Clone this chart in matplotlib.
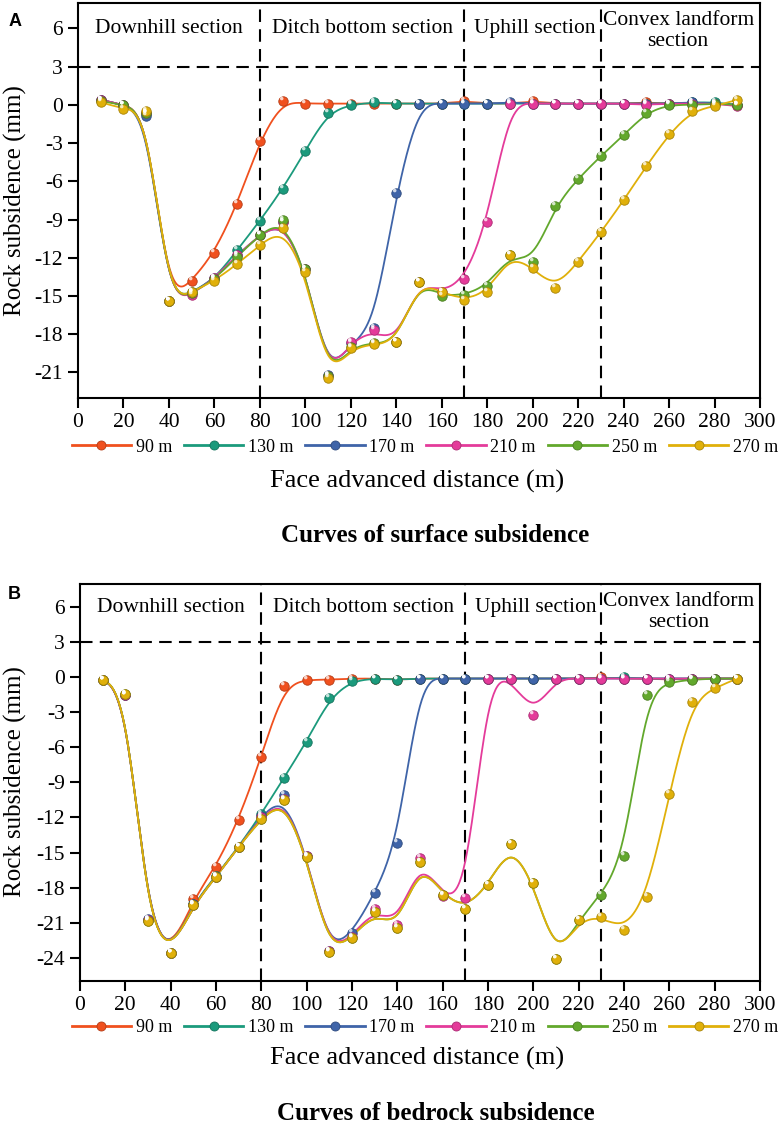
import numpy as np
import matplotlib
matplotlib.use("Agg")
import matplotlib.pyplot as plt
from matplotlib.path import Path
from matplotlib.lines import Line2D

plt.rcParams['font.family'] = ['Liberation Serif', 'DejaVu Serif']
plt.rcParams['axes.unicode_minus'] = False

## DATA
distance = np.arange(10, 300, 10)
labels = ["90 m", "130 m", "170 m", "210 m", "250 m", "270 m"]
colors = ["#F0501E", "#1B9A7C", "#3F64A8", "#E43B9A", "#62A82C", "#E0B00A"]

# surface subsidence (mm)
surf_90 = [0.4, 0.0, -0.6, -15.4, -13.8, -11.6, -7.8, -2.8, 0.3, 0.1, 0.1, 0.1, 0.1, 0.1, 0.1,
           0.1, 0.3, 0.1, 0.1, 0.3, 0.1, 0.1, 0.1, 0.1, 0.2, 0.1, 0.1, 0.1, 0.0]
surf_130 = [0.4, 0.0, -0.7, -15.4, -14.7, -13.7, -11.4, -9.1, -6.6, -3.6, -0.6, 0.0, 0.2, 0.1, 0.1,
            0.1, 0.1, 0.1, 0.1, 0.1, 0.1, 0.1, 0.1, 0.1, 0.1, 0.1, 0.2, 0.2, 0.0]
surf_170 = [0.4, 0.0, -0.9, -15.4, -14.8, -13.6, -11.8, -10.2, -9.2, -12.9, -21.2, -18.7, -17.5, -6.9, 0.1,
            0.1, 0.1, 0.1, 0.2, 0.1, 0.1, 0.1, 0.1, 0.1, 0.1, 0.1, 0.2, 0.1, 0.0]
surf_210 = [0.4, 0.0, -0.6, -15.4, -14.9, -13.6, -11.8, -10.2, -9.2, -12.9, -21.3, -18.6, -17.7, -18.6, -13.9,
            -14.7, -13.7, -9.2, 0.1, 0.1, 0.1, 0.1, 0.1, 0.1, 0.0, 0.1, 0.1, 0.1, -0.1]
surf_250 = [0.3, 0.0, -0.6, -15.4, -14.8, -13.7, -11.9, -10.2, -9.0, -12.9, -21.3, -19.0, -18.7, -18.6, -13.9,
            -15.0, -14.9, -14.2, -11.8, -12.3, -7.9, -5.8, -4.0, -2.4, -0.6, 0.0, 0.0, 0.1, 0.0]
surf_270 = [0.2, -0.3, -0.5, -15.4, -14.7, -13.8, -12.5, -11.0, -9.7, -13.1, -21.4, -19.1, -18.8, -18.6, -13.9,
            -14.7, -15.3, -14.7, -11.8, -12.8, -14.4, -12.3, -10.0, -7.5, -4.8, -2.3, -0.5, -0.1, 0.4]

# bedrock subsidence (mm)
bed_90 = [-0.2, -1.5, -20.8, -23.6, -19.0, -16.2, -12.2, -6.8, -0.7, -0.2, -0.2, -0.1, -0.1, -0.2, -0.1,
          -0.1, -0.1, -0.1, -0.1, -0.1, -0.1, -0.1, 0.0, -0.1, -0.1, -0.2, -0.1, -0.1, -0.1]
bed_130 = [-0.2, -1.5, -20.8, -23.6, -19.4, -17.0, -14.5, -11.7, -8.6, -5.5, -1.8, -0.3, -0.1, -0.2, -0.1,
           -0.1, -0.1, -0.1, -0.1, -0.1, -0.1, -0.1, -0.1, 0.0, -0.1, -0.1, -0.1, -0.1, -0.1]
bed_170 = [-0.2, -1.5, -20.7, -23.6, -19.4, -17.1, -14.5, -11.9, -10.1, -15.3, -23.4, -21.9, -18.5, -14.2, -0.1,
           -0.1, -0.1, -0.1, -0.1, -0.1, -0.1, -0.1, -0.1, -0.1, -0.1, -0.1, -0.1, -0.1, -0.1]
bed_210 = [-0.2, -1.5, -20.8, -23.6, -19.5, -17.1, -14.5, -12.0, -10.4, -15.3, -23.4, -22.2, -19.8, -21.2, -15.5,
           -18.7, -18.9, -0.1, -0.1, -3.2, -0.1, -0.1, -0.1, -0.1, -0.1, -0.1, -0.1, -0.1, -0.1]
bed_250 = [-0.2, -1.4, -20.9, -23.6, -19.5, -17.1, -14.5, -12.1, -10.5, -15.4, -23.5, -22.3, -20.1, -21.5, -15.8,
           -18.6, -19.8, -17.8, -14.3, -17.6, -24.1, -20.8, -18.6, -15.3, -1.5, -0.4, -0.2, -0.1, -0.1]
bed_270 = [-0.2, -1.4, -20.9, -23.6, -19.5, -17.1, -14.5, -12.1, -10.5, -15.4, -23.5, -22.3, -20.1, -21.5, -15.8,
           -18.6, -19.8, -17.8, -14.3, -17.6, -24.1, -20.8, -20.5, -21.6, -18.8, -10.0, -2.1, -0.9, -0.1]

sections = ["Downhill section", "Ditch bottom section", "Uphill section", "Convex landform\nsection"]
section_x = [40, 125, 201, 264]
boundaries = [80, 170, 230]


def bspline(xs, ys, n=24):
    # uniform cubic B-spline, data points used as control points (clamped ends)
    px = np.r_[xs[0], xs[0], xs, xs[-1], xs[-1]].astype(float)
    py = np.r_[ys[0], ys[0], ys, ys[-1], ys[-1]].astype(float)
    t = np.linspace(0, 1, n, endpoint=False)
    b0 = (1 - t) ** 3 / 6
    b1 = (3 * t ** 3 - 6 * t ** 2 + 4) / 6
    b2 = (-3 * t ** 3 + 3 * t ** 2 + 3 * t + 1) / 6
    b3 = t ** 3 / 6
    cx, cy = [], []
    for i in range(len(px) - 3):
        cx.append(b0 * px[i] + b1 * px[i + 1] + b2 * px[i + 2] + b3 * px[i + 3])
        cy.append(b0 * py[i] + b1 * py[i + 1] + b2 * py[i + 2] + b3 * py[i + 3])
    return np.concatenate(cx + [[px[-1]]]), np.concatenate(cy + [[py[-1]]])


# little white spot so the markers look like balls
spot = Path.circle(center=(-0.12, 0.2), radius=0.12)


def darker(c, f=0.75):
    r, g, b = matplotlib.colors.to_rgb(c)
    return (r * f, g * f, b * f)


def panel(ax, series, ylim, yticks, conv_y):
    for ys, c in zip(series, colors):
        sx, sy = bspline(distance, np.array(ys))
        ax.plot(sx, sy, color=c, lw=1.3, zorder=3)
        ax.plot(distance, ys, ls="none", marker="o", ms=6.8, mfc=c, mec=darker(c), mew=0.6, zorder=4)
        ax.plot(distance, ys, ls="none", marker=spot, ms=6.8, mfc=(1, 1, 1, 0.75), mew=0, zorder=5)

    dash = (0, (6, 3.5))
    ax.axhline(3, color="black", lw=1.5, ls=dash, zorder=2)
    for b in boundaries:
        ax.axvline(b, color="black", lw=1.5, ls=dash, zorder=2)

    for name, sxp in zip(sections, section_x):
        yy = conv_y if "\n" in name else 6.0
        ax.text(sxp, yy, name, ha="center", va="center", fontsize=15.5, linespacing=1.2)

    ax.set_xlim(0, 300)
    ax.set_ylim(*ylim)
    ax.set_xticks(np.arange(0, 301, 20))
    ax.set_yticks(yticks)
    ax.tick_params(direction="out", length=7, width=1.5, labelsize=15.5, pad=4,
                   top=False, right=False)
    for s in ax.spines.values():
        s.set_linewidth(1.5)


fig = plt.figure(figsize=(7.81, 11.3), dpi=100)

axA = fig.add_axes([0.0999, 0.6478, 0.8732, 0.3496])
panel(axA, [surf_90, surf_130, surf_170, surf_210, surf_250, surf_270],
      (-23, 8), np.arange(-21, 7, 3), 5.8)

axB = fig.add_axes([0.1024, 0.1319, 0.8707, 0.3513])
panel(axB, [bed_90, bed_130, bed_170, bed_210, bed_250, bed_270],
      (-26, 8), np.arange(-24, 7, 3), 5.6)

handles = [Line2D([], [], color=c, lw=2, marker="o", ms=6.5, mfc=c, mec=darker(c), mew=0.6)
           for c in colors]

for leg_y, xl_y, tt_y, yl_y, title in [(0.6044, 0.5735, 0.5265, 0.8222, "Curves of surface subsidence"),
                                       (0.0903, 0.0637, 0.0150, 0.3080, "Curves of bedrock subsidence")]:
    fig.legend(handles, labels, loc="center", bbox_to_anchor=(0.544, leg_y), ncol=6,
               frameon=False, fontsize=13, handlelength=3.3, handletextpad=0.25,
               columnspacing=0.65, borderaxespad=0, borderpad=0)
    fig.text(0.534, xl_y, "Face advanced distance (m)", ha="center", va="center", fontsize=19)
    fig.text(0.5575, tt_y, title, ha="center", va="center", fontsize=18, fontweight="bold")
    fig.text(0.0195, yl_y, "Rock subsidence (mm)", ha="center", va="center", rotation=90, fontsize=18)

fig.text(0.0192, 0.9814, "A", ha="center", va="center", fontsize=13, fontweight="bold",
         family=["Liberation Sans", "DejaVu Sans"])
fig.text(0.0179, 0.4735, "B", ha="center", va="center", fontsize=13, fontweight="bold",
         family=["Liberation Sans", "DejaVu Sans"])

fig.savefig("out.png", dpi=100)
